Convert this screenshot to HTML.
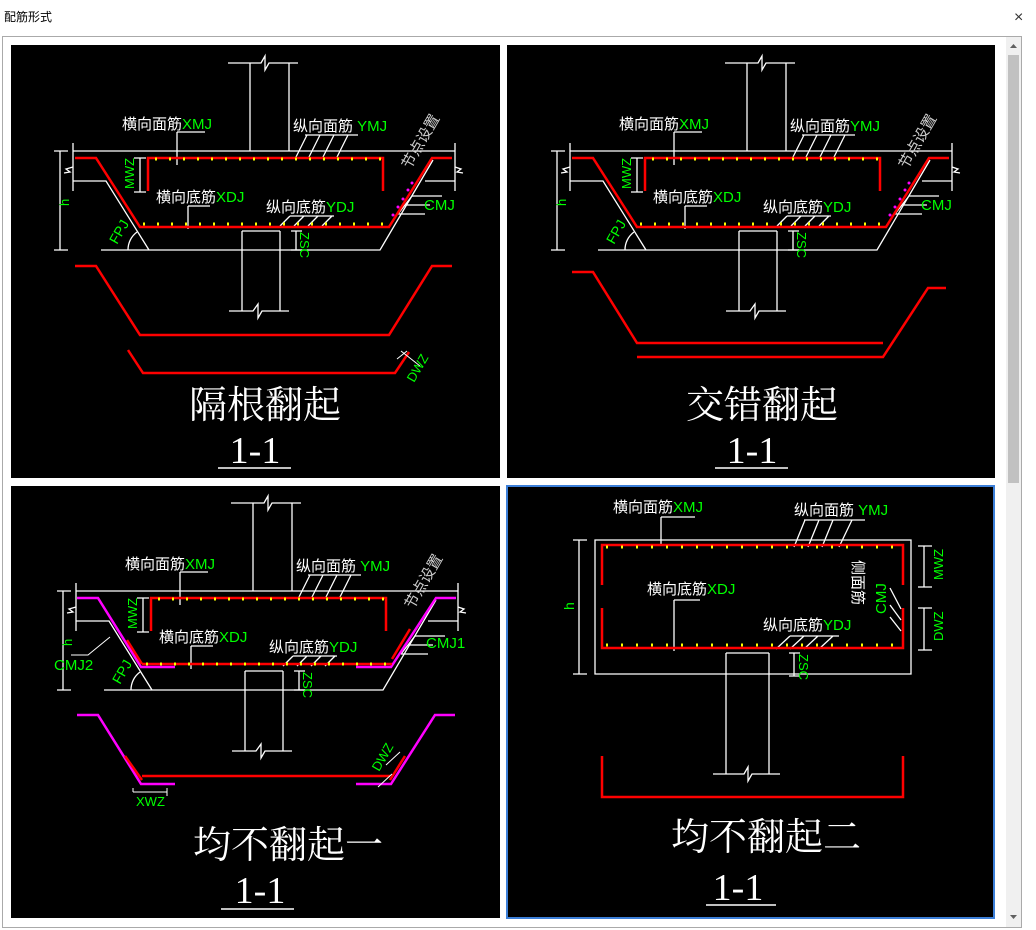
<!DOCTYPE html>
<html><head><meta charset="utf-8"><style>
html,body{margin:0;padding:0;background:#fff;width:1036px;height:930px;overflow:hidden}
svg{display:block}
text{font-family:"Liberation Sans","Noto Sans CJK SC",sans-serif}
.w{fill:#fff}.g{fill:#0f0}
.t{font-family:"Liberation Serif","Noto Serif CJK SC",serif}
</style></head><body>
<svg width="1036" height="930" viewBox="0 0 1036 930" xmlns="http://www.w3.org/2000/svg">
<defs>
<g id="frame" fill="none" stroke="#fff" stroke-width="1.3">
 <path d="M228 63H261L265 56L265 70L269 63H298M250 63V151M289 63V151"/>
 <path d="M73 151H455M73 143V191M455 143V191"/>
 <path d="M73 167L66 169L70 172L64 173M455 167L461 169L457 172L463 173"/>
 <path d="M73 181H106L149 250M101 250H380L433 160M425 181H455"/>
 <path d="M60 151V250M54 151H68M54 250H68"/>
 <path d="M140 158V192M134 158H146M134 192H146"/>
 <path d="M296 231V250M291 231H302M291 250H302"/>
 <path d="M242 231V311M280 231V311M242 231H280M229 311H253L258 304L258 318L262 311H289"/>
 <path d="M128 250A22 22 0 0 1 137 232"/>
 <path d="M177 132H205M177 132V165M305 135H358M295 159L307 135M308 159L320 135M322 159L334 135M336 159L348 135"/>
 <path d="M188 206H210M188 206V229M290 216H334M280 226L290 216M294 226L304 216M308 226L318 216M322 226L332 216"/>
 <path d="M412 196H442M405 205H430M398 214H425M412 196L398 214"/>
</g>
<g id="redtop" fill="none" stroke="#f00" stroke-width="2.5">
 <path d="M148 191V158H383V191"/>
</g>
<g id="dots" fill="none" stroke="#ff0" stroke-width="3">
 <path d="M155 159H382M143 224H388" stroke-dasharray="2 12"/>
</g>
</defs>
<text x="4" y="21" font-size="12" fill="#000">配筋形式</text>
<text x="1014" y="22" font-size="16" fill="#333">×</text>
<rect x="2.5" y="36.5" width="1019" height="891" fill="#fff" stroke="#aaa"/>
<rect x="1006" y="37" width="15" height="890" fill="#f0f0f0"/>
<rect x="1008" y="55" width="11" height="428" fill="#c1c1c1"/>
<path d="M1010 48L1013.5 44L1017 48Z M1010 915L1013.5 919L1017 915Z" fill="#606060"/>
<rect x="11" y="45" width="489" height="433" fill="#000"/>
<rect x="507" y="45" width="488" height="433" fill="#000"/>
<rect x="11" y="486" width="489" height="432" fill="#000"/>
<rect x="507" y="486" width="487" height="432" fill="#000" stroke="#3c7fd8" stroke-width="2"/>

<!-- PANEL 1 -->
<use href="#frame"/><use href="#redtop"/>
<g fill="none" stroke="#f00" stroke-width="2.5">
 <path d="M75 158H96L140 227H389L432 158H452"/>
 <path d="M75 266H96L140 335H389L432 266H452"/>
 <path d="M128 350L143 373H395L409 352"/>
</g>
<use href="#dots"/>
<g fill="#f0f"><circle cx="412" cy="183" r="1.5"/><circle cx="408" cy="190" r="1.5"/><circle cx="403" cy="199" r="1.5"/><circle cx="398" cy="207" r="1.5"/><circle cx="393" cy="215" r="1.5"/></g>
<path d="M401 351L420 366M397 359L407 351" stroke="#fff" fill="none"/>
<text x="122" y="129" font-size="15" class="w">横向面筋<tspan class="g">XMJ</tspan></text>
<text x="293" y="131" font-size="15" class="w">纵向面筋 <tspan class="g">YMJ</tspan></text>
<text x="156" y="202" font-size="15" class="w">横向底筋<tspan class="g">XDJ</tspan></text>
<text x="266" y="212" font-size="15" class="w">纵向底筋<tspan class="g">YDJ</tspan></text>
<text x="424" y="210" font-size="15" class="g">CMJ</text>
<text font-size="13" class="g" transform="translate(69,206) rotate(-90)">h</text>
<text font-size="13" class="g" transform="translate(134,189) rotate(-90)">MWZ</text>
<text font-size="14" class="g" transform="translate(117,245) rotate(-60)">FPJ</text>
<text font-size="13" class="g" transform="translate(300,232) rotate(90)">ZSC</text>
<text font-size="13" class="g" transform="translate(414,383) rotate(-60)">DWZ</text>
<text font-size="15" fill="#ccc" transform="translate(410,170) rotate(-60)">节点设置</text>
<text x="265" y="418" font-size="38" class="w t" text-anchor="middle">隔根翻起</text>
<text x="255" y="463" font-size="38" class="w t" text-anchor="middle">1-1</text>
<path d="M218 468H291" stroke="#fff" stroke-width="1.5"/>

<!-- PANEL 2 -->
<g transform="translate(497,0)">
<use href="#frame"/><use href="#redtop"/>
<g fill="none" stroke="#f00" stroke-width="2.5">
 <path d="M75 158H96L140 227H389L432 158H452"/>
 <path d="M75 272H96L140 343H386"/>
 <path d="M140 357H386L431 288H449"/>
</g>
<use href="#dots"/>
<g fill="#f0f"><circle cx="412" cy="183" r="1.5"/><circle cx="408" cy="190" r="1.5"/><circle cx="403" cy="199" r="1.5"/><circle cx="398" cy="207" r="1.5"/><circle cx="393" cy="215" r="1.5"/></g>
<text x="122" y="129" font-size="15" class="w">横向面筋<tspan class="g">XMJ</tspan></text>
<text x="293" y="131" font-size="15" class="w">纵向面筋<tspan class="g">YMJ</tspan></text>
<text x="156" y="202" font-size="15" class="w">横向底筋<tspan class="g">XDJ</tspan></text>
<text x="266" y="212" font-size="15" class="w">纵向底筋<tspan class="g">YDJ</tspan></text>
<text x="424" y="210" font-size="15" class="g">CMJ</text>
<text font-size="13" class="g" transform="translate(69,206) rotate(-90)">h</text>
<text font-size="13" class="g" transform="translate(134,189) rotate(-90)">MWZ</text>
<text font-size="14" class="g" transform="translate(117,245) rotate(-60)">FPJ</text>
<text font-size="13" class="g" transform="translate(300,232) rotate(90)">ZSC</text>
<text font-size="15" fill="#ccc" transform="translate(410,170) rotate(-60)">节点设置</text>
<text x="265" y="418" font-size="38" class="w t" text-anchor="middle">交错翻起</text>
<text x="255" y="463" font-size="38" class="w t" text-anchor="middle">1-1</text>
<path d="M218 468H291" stroke="#fff" stroke-width="1.5"/>
</g>

<!-- PANEL 3 -->
<g transform="translate(3,440)">
<use href="#frame"/><use href="#redtop"/>
<g fill="none" stroke-width="2.5">
 <path d="M74 158H95L138 227H172" stroke="#f0f"/>
 <path d="M353 227H388L433 158H453" stroke="#f0f"/>
 <path d="M139 224H389M124 200L139 224M389 219L407 189" stroke="#f00"/>
 <path d="M74 275H95L138 344H172" stroke="#f0f"/>
 <path d="M353 344H388L432 275H452" stroke="#f0f"/>
 <path d="M139 336H387M122 316L139 340M387 340L402 316" stroke="#f00"/>
</g>
<use href="#dots"/>
<path d="M68 215H85L107 197M130 348V352M130 352H164M164 348V356M383 325L397 312M375 347L389 334" stroke="#fff" fill="none"/>
<text x="122" y="129" font-size="15" class="w">横向面筋<tspan class="g">XMJ</tspan></text>
<text x="293" y="131" font-size="15" class="w">纵向面筋 <tspan class="g">YMJ</tspan></text>
<text x="156" y="202" font-size="15" class="w">横向底筋<tspan class="g">XDJ</tspan></text>
<text x="266" y="212" font-size="15" class="w">纵向底筋<tspan class="g">YDJ</tspan></text>
<text x="423" y="208" font-size="15" class="g">CMJ1</text>
<text x="51" y="230" font-size="15" class="g">CMJ2</text>
<text x="133" y="366" font-size="13" class="g">XWZ</text>
<text font-size="13" class="g" transform="translate(69,206) rotate(-90)">h</text>
<text font-size="13" class="g" transform="translate(134,189) rotate(-90)">MWZ</text>
<text font-size="14" class="g" transform="translate(117,245) rotate(-60)">FPJ</text>
<text font-size="13" class="g" transform="translate(300,232) rotate(90)">ZSC</text>
<text font-size="13" class="g" transform="translate(376,332) rotate(-60)">DWZ</text>
<text font-size="15" fill="#ccc" transform="translate(410,170) rotate(-60)">节点设置</text>
</g>
<text x="288" y="858" font-size="38" class="w t" text-anchor="middle">均不翻起一</text>
<text x="260" y="903" font-size="38" class="w t" text-anchor="middle">1-1</text>
<path d="M221 909H294" stroke="#fff" stroke-width="1.5"/>

<!-- PANEL 4 -->
<g fill="none" stroke="#fff" stroke-width="1.3">
 <path d="M595 540H911V674H595Z"/>
 <path d="M726 653V774M769 653V774M726 653H769M713 774H744L748 767L748 781L752 774H780"/>
 <path d="M579 540V674M573 540H587M573 674H587"/>
 <path d="M924 546V587M918 546H932M918 587H932M924 608V650M918 608H932M918 650H932"/>
 <path d="M794 653V676M789 653H800M789 676H800"/>
 <path d="M661 517H695M661 517V546M804 520H865M794 547L805 520M808 547L819 520M822 547L833 520M839 547L852 520"/>
 <path d="M674 600H700M674 600V651M776 649L790 636M790 649L804 636M804 649L818 636M819 649L833 636M790 636H839"/>
 <path d="M890 588L901 609M890 605L901 620M890 617L901 631"/>
</g>
<g fill="none" stroke="#f00" stroke-width="2.5">
 <path d="M602 585V545H903V585M602 608V648H903V608"/>
 <path d="M602 756V797H903V756"/>
</g>
<path d="M606 547H900M606 645H900" stroke="#ff0" stroke-width="3" stroke-dasharray="2 13"/>
<text x="613" y="512" font-size="15" class="w">横向面筋<tspan class="g">XMJ</tspan></text>
<text x="794" y="515" font-size="15" class="w">纵向面筋 <tspan class="g">YMJ</tspan></text>
<text x="647" y="594" font-size="15" class="w">横向底筋<tspan class="g">XDJ</tspan></text>
<text x="763" y="630" font-size="15" class="w">纵向底筋<tspan class="g">YDJ</tspan></text>
<text font-size="15" class="w" transform="translate(853,560) rotate(90)">侧面筋</text>
<text font-size="15" class="g" transform="translate(886,614) rotate(-90)">CMJ</text>
<text font-size="14" class="g" transform="translate(574,610) rotate(-90)">h</text>
<text font-size="13" class="g" transform="translate(943,580) rotate(-90)">MWZ</text>
<text font-size="13" class="g" transform="translate(943,641) rotate(-90)">DWZ</text>
<text font-size="13" class="g" transform="translate(799,654) rotate(90)">ZSC</text>
<text x="766" y="850" font-size="38" class="w t" text-anchor="middle">均不翻起二</text>
<text x="738" y="900" font-size="38" class="w t" text-anchor="middle">1-1</text>
<path d="M706 905H776" stroke="#fff" stroke-width="1.5"/>
</svg>
</body></html>
